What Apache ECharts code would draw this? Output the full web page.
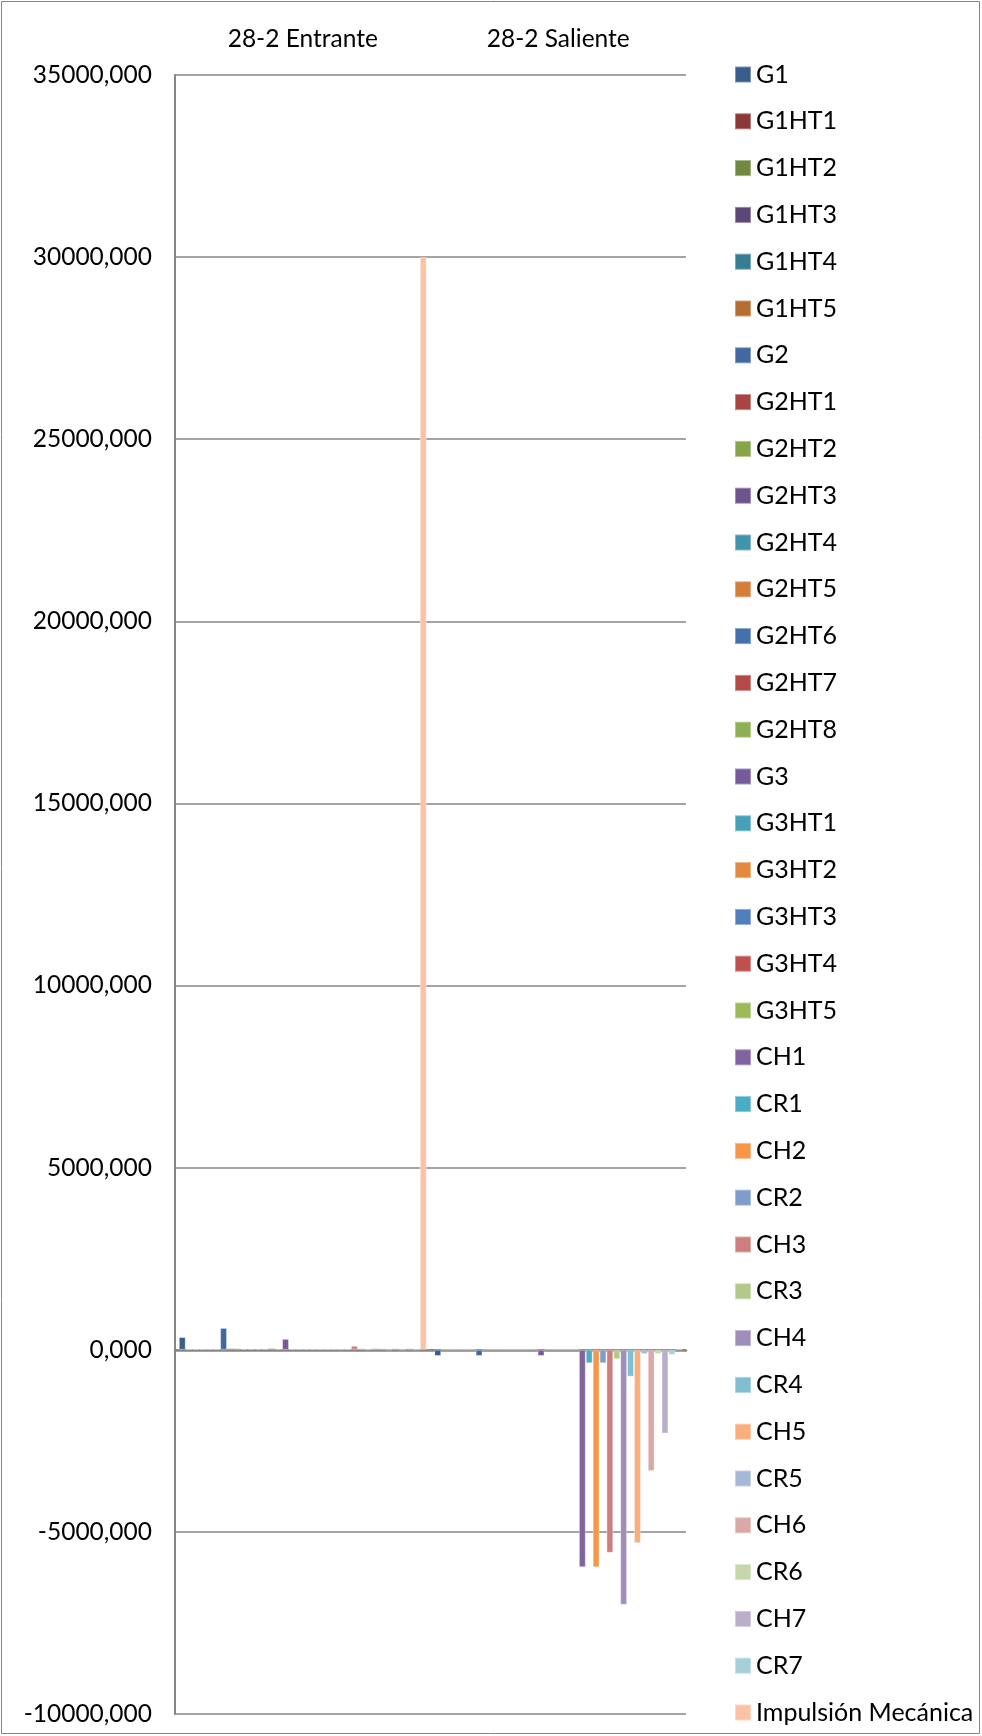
<!DOCTYPE html>
<html>
<head>
<meta charset="utf-8">
<script src="https://cdn.jsdelivr.net/npm/echarts@6/dist/echarts.min.js"></script>
<style>
  html, body { margin: 0; padding: 0; background: #fff; }
  #draw { width: 982px; height: 1736px; }
</style>
</head>
<body>
<div id="draw"></div>
<script>
// categorias del eje X (arriba)
var categories = ['28-2 Entrante', '28-2 Saliente'];

// nombres de las series (orden de la leyenda)
var seriesNames = ['G1', 'G1HT1', 'G1HT2', 'G1HT3', 'G1HT4', 'G1HT5',
	'G2', 'G2HT1', 'G2HT2', 'G2HT3', 'G2HT4', 'G2HT5', 'G2HT6', 'G2HT7', 'G2HT8',
	'G3', 'G3HT1', 'G3HT2', 'G3HT3', 'G3HT4', 'G3HT5',
	'CH1', 'CR1', 'CH2', 'CR2', 'CH3', 'CR3', 'CH4', 'CR4', 'CH5', 'CR5',
	'CH6', 'CR6', 'CH7', 'CR7', 'Impulsión Mecánica'];

// valores por serie en "28-2 Entrante"
var entrante = [350, 18, 18, 18, 18, 18,
	600, 45, 45, 28, 28, 28, 28, 45, 28,
	300, 18, 18, 18, 18, 18,
	10, 18, 10, 18, 110, 45, 5, 45, 45, 0,
	45, 0, 45, 0, 30000];

// valores por serie en "28-2 Saliente"
var saliente = [-170, 0, 0, 0, 0, 0,
	-170, 0, 0, 0, 0, 0, 0, 0, 0,
	-170, 0, 0, 0, 0, 0,
	-5970, -370, -5970, -370, -5575, -260, -7000, -740, -5310, -120,
	-3330, -120, -2300, -140, 0];

// colores estilo Excel
var colors = ['#385D8A', '#8C3836', '#71893F', '#5C4776', '#357D91', '#B66D31',
	'#4169A0', '#A84542', '#86A44A', '#6E548D', '#3F93AA', '#D37F39', '#4470AE', '#B44A47', '#8FAF54',
	'#765A9A', '#44A1B8', '#E38A3E', '#4F80BD', '#C0504D', '#9BBB59',
	'#8064A2', '#4BACC6', '#F79646', '#7F9DCB', '#CE7F7D', '#B3C98A', '#A08EBA', '#7FBFD0', '#F9AE7B', '#A7B7D8',
	'#D9A8A7', '#C6D7AB', '#B9AFCB', '#A6CFDC', '#FAC3A6'];

var FONT = 'Lato';
var GRIS = '#868686';

var myChart = echarts.init(document.getElementById('draw'));

var series = seriesNames.map(function(name, i) {
	return {
		name : name,
		type : 'bar',
		xAxisIndex : 0,
		barGap : '0%',
		barCategoryGap : '3%',
		itemStyle : {
			color : colors[i],
			borderColor : 'rgba(255,255,255,0.35)',
			borderWidth : 1
		},
		data : [entrante[i], saliente[i]]
	};
});

var option = {
	animation : false,
	color : colors,
	graphic : [ {
		type : 'rect',
		shape : { x : 1.5, y : 1.5, width : 978, height : 1732 },
		style : { fill : null, stroke : GRIS, lineWidth : 1 },
		silent : true
	} ],
	legend : {
		orient : 'vertical',
		left : 734,
		top : 62,
		height : 1672,
		padding : 0,
		icon : 'rect',
		itemWidth : 16,
		itemHeight : 16,
		itemGap : 21.8,
		selectedMode : false,
		textStyle : {
			fontFamily : FONT,
			fontSize : 25,
			lineHeight : 25,
			color : '#000'
		},
		data : seriesNames
	},
	grid : {
		left : 175,
		right : 296,
		top : 75,
		bottom : 22,
		containLabel : false
	},
	xAxis : [ {
		type : 'category',
		position : 'top',
		data : categories,
		axisLine : { show : false, onZero : false },
		axisTick : { show : false },
		axisLabel : {
			margin : 23,
			fontFamily : FONT,
			fontSize : 24.5,
			color : '#000'
		},
		splitLine : { show : false }
	}, {
		type : 'category',
		position : 'bottom',
		data : categories,
		axisLine : { show : true, onZero : true, lineStyle : { color : GRIS, width : 2.5 } },
		axisTick : { show : false },
		axisLabel : { show : false },
		splitLine : { show : false }
	} ],
	yAxis : {
		type : 'value',
		min : -10000,
		max : 35000,
		interval : 5000,
		axisLine : { show : true, lineStyle : { color : GRIS, width : 2 } },
		axisTick : { show : false },
		axisLabel : {
			margin : 23,
			fontFamily : FONT,
			fontSize : 24.5,
			color : '#000',
			formatter : function(v) {
				return v + ',000';
			}
		},
		splitLine : { show : true, lineStyle : { color : GRIS, width : 1.5 } }
	},
	series : series
};

myChart.setOption(option);
</script>
</body>
</html>
